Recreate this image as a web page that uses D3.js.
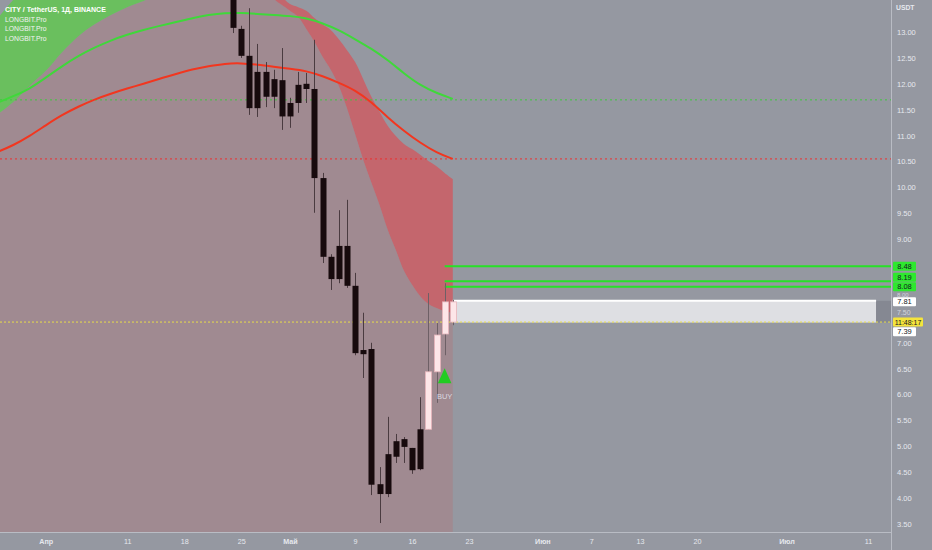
<!DOCTYPE html>
<html><head><meta charset="utf-8">
<script src="https://cdn.jsdelivr.net/npm/d3@7"></script>
<style>html,body{margin:0;padding:0;background:#9598a1;}svg{display:block;}</style>
</head><body>
<svg id="c" width="932" height="550"></svg>
<script>
// ---------- DATA ----------
const candleDates = ["2021-04-24","2021-04-25","2021-04-26","2021-04-27","2021-04-28","2021-04-29","2021-04-30",
  "2021-05-01","2021-05-02","2021-05-03","2021-05-04","2021-05-05","2021-05-06","2021-05-07","2021-05-08",
  "2021-05-09","2021-05-10","2021-05-11","2021-05-12","2021-05-13","2021-05-14","2021-05-15","2021-05-16",
  "2021-05-17","2021-05-18","2021-05-19","2021-05-20","2021-05-21"];
const opens  = [14.10,13.06,12.54,11.53,12.23,11.75,12.07,11.37,11.63,12.00,11.90,10.18,8.66,8.23,8.87,8.10,6.78,6.88,4.27,4.08,4.80,5.14,4.97,4.56,5.33,6.44,7.17,7.79];
const highs  = [14.50,13.12,13.46,12.77,12.42,12.27,12.69,11.73,12.23,12.21,12.85,10.28,8.71,9.56,9.76,8.35,7.58,7.00,4.60,5.57,5.24,5.18,4.97,5.95,7.96,7.38,8.15,7.83];
const lows   = [12.98,12.50,11.40,11.36,11.55,11.53,11.11,11.15,11.44,11.63,9.51,8.54,8.02,8.15,8.06,6.76,6.32,4.06,3.52,4.02,4.68,4.68,4.47,4.54,5.32,5.84,6.76,7.34];
const closes = [13.08,12.54,11.53,12.23,11.75,12.09,11.37,11.63,11.98,11.90,10.18,8.66,8.23,8.87,8.10,6.80,6.86,4.26,4.08,4.85,5.10,4.99,4.54,5.33,6.44,7.15,7.79,7.40];
const barTone = ["d","d","d","d","d","d","d","d","d","d","d","d","d","d","d","d","d","d","d","d","d","d","d","d","l","l","l","l"];

const cloudDates = ["2021-03-26","2021-03-28","2021-03-30","2021-04-01","2021-04-03","2021-04-05","2021-04-07","2021-04-09",
  "2021-04-11","2021-04-13","2021-04-15","2021-04-17","2021-04-19","2021-04-21","2021-04-23","2021-04-25","2021-04-27",
  "2021-04-29","2021-04-30","2021-05-01","2021-05-02","2021-05-03","2021-05-04","2021-05-05","2021-05-06","2021-05-07",
  "2021-05-08","2021-05-09","2021-05-10","2021-05-11","2021-05-12","2021-05-13","2021-05-14","2021-05-15","2021-05-16",
  "2021-05-17","2021-05-18","2021-05-19","2021-05-20","2021-05-21"];
const cloudTop    = [13.25,13.62,13.95,14.25,14.50,14.70,14.85,14.95,15.00,15.00,14.95,14.80,14.60,14.50,14.40,14.30,14.10,
  13.85,13.68,13.54,13.48,13.41,13.27,13.15,13.04,12.86,12.65,12.42,12.09,11.75,11.46,11.19,10.99,10.84,10.74,10.63,10.51,10.41,10.28,10.16];
const cloudBottom = [11.40,11.65,11.96,12.25,12.61,12.92,13.15,13.33,13.48,13.60,13.75,14.00,14.30,14.40,14.30,14.15,13.95,
  13.64,13.52,13.41,13.29,13.06,12.81,12.52,12.27,11.96,11.53,11.03,10.53,10.09,9.66,9.18,8.79,8.39,8.12,7.90,7.75,7.67,7.61,7.58];
const cloudFlipDate = "2021-04-21";

const maDates = ["2021-03-26","2021-03-28","2021-03-30","2021-04-01","2021-04-03","2021-04-05","2021-04-07","2021-04-09",
  "2021-04-11","2021-04-13","2021-04-15","2021-04-17","2021-04-19","2021-04-21","2021-04-23","2021-04-25","2021-04-27",
  "2021-04-29","2021-05-01","2021-05-03","2021-05-05","2021-05-07","2021-05-09","2021-05-11","2021-05-13","2021-05-15",
  "2021-05-17","2021-05-19","2021-05-21"];
const maGreen = [11.63,11.76,11.90,12.12,12.34,12.54,12.70,12.84,12.95,13.04,13.12,13.19,13.27,13.33,13.37,13.37,13.35,
  13.33,13.31,13.27,13.17,13.04,12.86,12.68,12.46,12.20,11.97,11.82,11.71];
const maRed = [10.68,10.81,10.99,11.20,11.40,11.56,11.70,11.81,11.91,12.00,12.10,12.19,12.28,12.34,12.39,12.40,12.37,
  12.33,12.29,12.25,12.15,12.02,11.88,11.65,11.35,11.09,10.86,10.67,10.55];

const greenLevel = 11.69, redLevel = 10.55;
const targetLevels = [8.48, 8.19, 8.08];
const targetStart = "2021-05-20";
const zoneTop = 7.81, zoneBottom = 7.39, zoneStart = "2021-05-21", zoneEnd = "2021-07-12";
const currentPrice = 7.40, countdown = "11:48:17";
const buyDate = "2021-05-20";

const yTicks = [3.5,4,4.5,5,5.5,6,6.5,7,7.5,8,8.5,9,9.5,10,10.5,11,11.5,12,12.5,13];
const xTickDates = ["2021-04-01","2021-04-11","2021-04-18","2021-04-25","2021-05-01","2021-05-09","2021-05-16","2021-05-23",
  "2021-06-01","2021-06-07","2021-06-13","2021-06-20","2021-07-01","2021-07-11"];
const xTickLabels = ["Апр","11","18","25","Май","9","16","23","Июн","7","13","20","Июл","11"];
const monthLabels = ["Апр","Май","Июн","Июл"];
const legendLines = ["CITY / TetherUS, 1Д, BINANCE","LONGBIT.Pro","LONGBIT.Pro","LONGBIT.Pro"];

// ---------- CHART ----------
const W = 932, H = 550, PW = 891, PH = 532;
const D = s => new Date(s + "T00:00:00Z");
const x = d3.scaleUtc().domain([Date.UTC(2021,2,26,9), Date.UTC(2021,6,13,17)]).range([0, 890]);
const y = d3.scaleLinear().domain([3.347, 13.618]).range([PH, 0]);
const FONT = "'Liberation Sans', Arial, sans-serif";
const fmt = d3.format(".2f");

const svg = d3.select("#c");
svg.append("rect").attr("width", W).attr("height", H).attr("fill", "#9598a1");
svg.append("defs").append("clipPath").attr("id","plot").append("rect").attr("width", PW).attr("height", PH);
const g = svg.append("g").attr("clip-path","url(#plot)");

const cloud = cloudDates.map((d,i)=>({d:D(d), top:cloudTop[i], bot:cloudBottom[i]}));
const flip = D(cloudFlipDate);
const smooth = d3.curveCatmullRom.alpha(0.5);

// pink background under the cloud
g.append("path").datum(cloud)
  .attr("d", d3.area().x(p=>x(p.d)).y0(PH).y1(p=>y(p.bot)).curve(smooth))
  .attr("fill", "#a08a91");

const cloudArea = d3.area().x(p=>x(p.d)).y0(p=>y(p.bot)).y1(p=>y(p.top)).curve(smooth);
g.append("path").datum(cloud.filter(p=>p.d<=flip)).attr("d", cloudArea).attr("fill", "#6abf5e");
g.append("path").datum(cloud.filter(p=>p.d>=flip)).attr("d", cloudArea).attr("fill", "#c4666d");

// dotted horizontal levels
function hline(p, color, dash, w){
  g.append("line").attr("x1",0).attr("x2",PW).attr("y1",y(p)).attr("y2",y(p))
    .attr("stroke",color).attr("stroke-width",w||1).attr("stroke-dasharray",dash);
}
hline(greenLevel, "#3cc83c", "2,3");
hline(redLevel, "#ee3030", "2,3");

// moving average lines
const ma = (vals) => maDates.map((d,i)=>({d:D(d), v:vals[i]}));
const line = d3.line().x(p=>x(p.d)).y(p=>y(p.v)).curve(d3.curveBasis);
g.append("path").datum(ma(maGreen)).attr("d", line).attr("fill","none").attr("stroke","#3fd83a").attr("stroke-width",2);
g.append("path").datum(ma(maRed)).attr("d", line).attr("fill","none").attr("stroke","#f2361f").attr("stroke-width",2);

// zone box
const zx0 = x(D(zoneStart)), zx1 = x(D(zoneEnd));
g.append("rect").attr("x", zx0).attr("y", y(zoneTop)).attr("width", zx1-zx0).attr("height", y(zoneBottom)-y(zoneTop))
  .attr("fill", "#dedfe3");
g.append("rect").attr("x", zx1).attr("y", y(zoneTop)).attr("width", PW-zx1).attr("height", y(zoneBottom)-y(zoneTop))
  .attr("fill", "#858892");
g.append("line").attr("x1", zx0).attr("x2", zx1).attr("y1", y(zoneTop)).attr("y2", y(zoneTop))
  .attr("stroke","#ffffff").attr("stroke-width",2);

// target lines
targetLevels.forEach(p=>{
  g.append("line").attr("x1", x(D(targetStart))).attr("x2", PW).attr("y1", y(p)).attr("y2", y(p))
    .attr("stroke","#27e127").attr("stroke-width",2);
});

// current price line
hline(currentPrice, "#e8dc4a", "2,2");

// candles
const bw = 6;
candleDates.forEach((ds,i)=>{
  const cx = Math.round(x(D(ds))) + 0.5;
  const light = barTone[i] === "l";
  g.append("line").attr("x1",cx).attr("x2",cx).attr("y1",y(highs[i])).attr("y2",y(lows[i]))
    .attr("stroke", light ? "#6e6066" : "#4a3b40").attr("stroke-width",1);
  const t = y(Math.max(opens[i],closes[i])), b = y(Math.min(opens[i],closes[i]));
  g.append("rect").attr("x", cx-bw/2).attr("y", t).attr("width", bw).attr("height", Math.max(1,b-t))
    .attr("fill", light ? "#fde6e8" : "#170a0d")
    .attr("stroke", light ? "#e7b5bb" : "#170a0d").attr("stroke-width", light ? 0.8 : 0);
});

// BUY marker
{
  const bi = candleDates.indexOf(buyDate);
  const bx = x(D(buyDate)), yt = y(lows[bi]) + 13, yb = yt + 15;
  g.append("path").attr("d", `M${bx},${yt}L${bx+6.8},${yb}L${bx-6.8},${yb}Z`).attr("fill","#22cc22");
  g.append("text").attr("x", bx).attr("y", yb+16).attr("text-anchor","middle")
    .attr("font-family",FONT).attr("font-size",7.5).attr("fill","#d9d9e0").text("BUY");
}

// legend
legendLines.forEach((t,i)=>{
  svg.append("text").attr("x",5).attr("y", 12 + i*9.6).attr("font-family",FONT)
    .attr("font-size", i===0 ? 7 : 6.8).attr("font-weight", i===0 ? "bold" : "normal")
    .attr("fill", i===0 ? "#ffffff" : "#f2f2f2").text(t);
});

// axes borders
svg.append("line").attr("x1",0).attr("x2",PW).attr("y1",PH+0.5).attr("y2",PH+0.5).attr("stroke","#b9bcc4").attr("stroke-width",1);
svg.append("line").attr("x1",PW+0.5).attr("x2",PW+0.5).attr("y1",0).attr("y2",H).attr("stroke","#b9bcc4").attr("stroke-width",1);

// price tags on the axis (computed first so tick labels can avoid them)
const tags = [];
let prev = Infinity;
[...targetLevels].sort((a,b)=>a-b).forEach(p=>{
  const cy = Math.min(y(p), prev - 9.5); prev = cy;
  tags.push({cy, text: fmt(p), fill:"#2ee82e", w:23});
});
tags.push({cy: y(zoneTop)+1, text: fmt(zoneTop), fill:"#ffffff", w:23});
const cyCur = y(currentPrice);
tags.push({cy: cyCur, text: countdown, fill:"#f5e43c", w:30});
tags.push({cy: Math.max(y(zoneBottom), cyCur + 9.8), text: fmt(zoneBottom), fill:"#ffffff", w:23});
const TH = 9;

// right axis
const ya = svg.append("g").attr("transform",`translate(${PW},0)`)
  .call(d3.axisRight(y).tickValues(yTicks).tickFormat(fmt).tickSize(0).tickPadding(6));
ya.select(".domain").remove();
ya.selectAll("text").attr("font-family",FONT).attr("font-size",7.5).attr("fill","#e6e8ee");
// tick labels that fall under a price tag: squeeze into the gap between two tags, else hidden behind the tag
const sortedTags = [...tags].sort((a,b)=>a.cy-b.cy);
ya.selectAll(".tick").each(function(v){
  const ty = y(v);
  const idx = sortedTags.findIndex(t => Math.abs(t.cy - ty) < TH/2 + 3);
  if (idx < 0) return;
  const hit = sortedTags[idx];
  const below = sortedTags[idx+1], above = sortedTags[idx-1];
  const gb = below ? (below.cy - TH/2) - (hit.cy + TH/2) : -1;
  const ga = above ? (hit.cy - TH/2) - (above.cy + TH/2) : -1;
  let gapY = null, gap = 0;
  if (gb >= 5 && (ty >= hit.cy || ga < 5)) { gapY = hit.cy + TH/2 + gb/2; gap = gb; }
  else if (ga >= 5) { gapY = hit.cy - TH/2 - ga/2; gap = ga; }
  const txt = d3.select(this).select("text");
  if (gapY === null) { txt.attr("opacity",0); return; }
  txt.attr("transform",`translate(0,${gapY - ty})`).attr("font-size", Math.max(5, Math.min(7, gap))).attr("opacity",0.75);
});
svg.append("text").attr("x",896).attr("y",10).attr("font-family",FONT).attr("font-size",6.8).attr("font-weight","bold")
  .attr("fill","#e6e8ee").text("USDT");

// draw tags
tags.forEach(t=>{
  svg.append("rect").attr("x",893).attr("y",t.cy-TH/2).attr("width",t.w).attr("height",TH).attr("fill",t.fill).attr("rx",1);
  svg.append("text").attr("x",893+t.w/2).attr("y",t.cy).attr("dy","0.35em").attr("text-anchor","middle")
    .attr("font-family",FONT).attr("font-size", t.w>25 ? 7 : 7.5).attr("fill","#131722").text(t.text);
});

// bottom axis
const xa = svg.append("g").attr("transform",`translate(0,${PH})`)
  .call(d3.axisBottom(x).tickValues(xTickDates.map(D)).tickFormat((d,i)=>xTickLabels[i]).tickSize(0).tickPadding(7));
xa.select(".domain").remove();
xa.selectAll("text").attr("font-family",FONT).attr("font-size",7.2).attr("fill","#e6e8ee")
  .attr("font-weight", (d,i)=> monthLabels.includes(xTickLabels[i]) ? "bold" : "normal");
</script>
</body></html>
